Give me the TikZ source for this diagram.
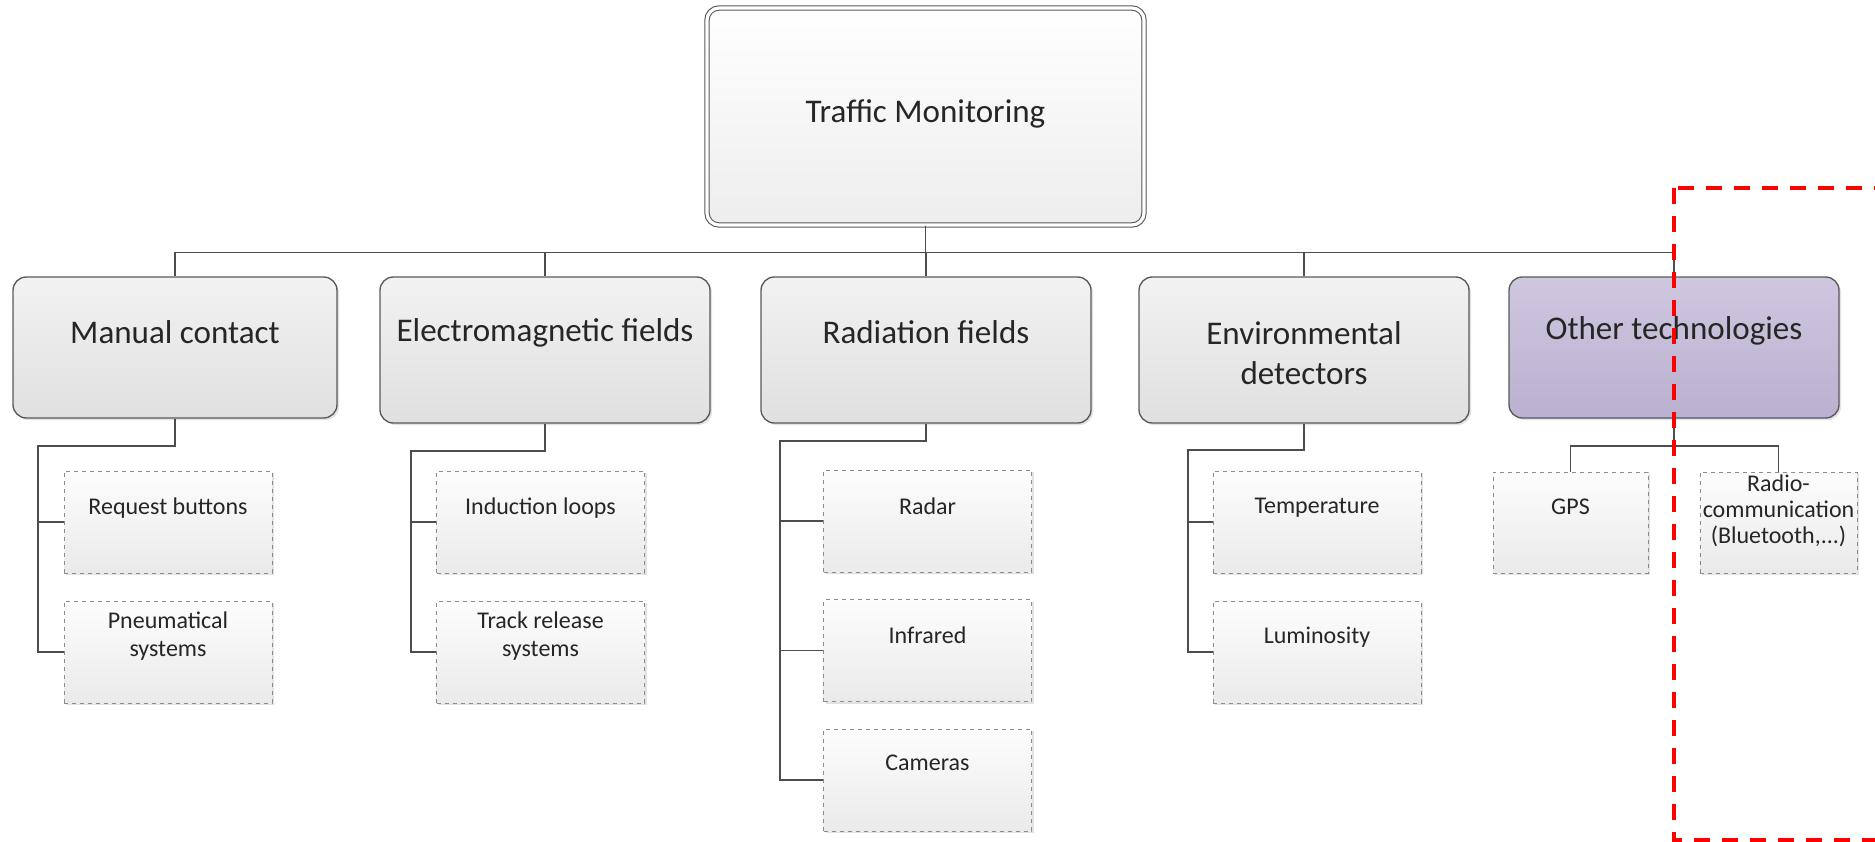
\documentclass[tikz,border=0pt]{standalone}
\usepackage{fontspec}
\setmainfont{Carlito}
\usetikzlibrary{shadows}

\definecolor{boxline}{RGB}{89,89,89}
\definecolor{wireline}{RGB}{77,77,77}
\definecolor{greytop}{RGB}{242,242,242}
\definecolor{greybot}{RGB}{224,224,224}
\definecolor{lilactop}{RGB}{207,199,224}
\definecolor{lilacbot}{RGB}{186,176,208}
\definecolor{leaftop}{RGB}{253,253,253}
\definecolor{leafbot}{RGB}{234,234,234}
\definecolor{leafline}{RGB}{140,140,140}
\definecolor{txtgrey}{RGB}{38,38,38}

\begin{document}
\begin{tikzpicture}[x=0.75pt,y=0.75pt,yscale=-1,xscale=1,
  softshadow/.style={drop shadow={shadow xshift=1.5pt,shadow yshift=-1.5pt,opacity=0.25,fill=black!45}},
  rootbox/.style={draw=boxline,line width=0.8pt,double=white,double distance=2.4pt,rounded corners=9pt,
    top color=white,bottom color=black!7,minimum width=327.75pt,minimum height=162.75pt,softshadow},
  catbox/.style={draw=boxline,line width=1pt,rounded corners=10pt,top color=greytop,bottom color=greybot,
    minimum width=247.5pt,minimum height=109.5pt,softshadow},
  leafbox/.style={draw=leafline,line width=0.75pt,dash pattern=on 3pt off 3pt,top color=leaftop,bottom color=leafbot,
    minimum width=156pt,minimum height=76.5pt,softshadow},
  cattext/.style={inner sep=0.75pt,align=center,text=txtgrey,font=\fontsize{24.8}{30}\selectfont},
  leaftext/.style={inner sep=0.75pt,align=center,text=txtgrey,font=\fontsize{18}{20.5}\selectfont},
  wire/.style={draw=wireline,line width=1pt},
  redframe/.style={draw=red,line width=3pt,dash pattern=on 12pt off 9pt}]
\useasboundingbox (0,0) rectangle (1875,842);
\clip (0,0) rectangle (1875,842);

%Shape: Rounded Rect [id:root]
\draw (925.5,116.5) node [rootbox] (root) {};
%Shape: Rounded Rect [id:categories]
\draw (175,347.5) node [catbox,minimum width=243pt,minimum height=105.75pt] (manual) {};
\draw (545,350) node [catbox] (em) {};
\draw (926,350) node [catbox] (radiation) {};
\draw (1304,350) node [catbox] (envir) {};
\draw (1674,347.5) node [catbox,minimum height=105.75pt,top color=lilactop,bottom color=lilacbot] (other) {};

%Shape: Rectangle [id:leaves]
\draw (168,522) node [leafbox] (req) {};
\draw (168,652) node [leafbox] (pneu) {};
\draw (540.5,522) node [leafbox] (ind) {};
\draw (540.5,652) node [leafbox] (track) {};
\draw (927.5,521) node [leafbox] (radar) {};
\draw (927.5,650.5) node [leafbox] (infra) {};
\draw (927.5,780) node [leafbox] (cams) {};
\draw (1317,522) node [leafbox] (temp) {};
\draw (1317,652) node [leafbox] (lum) {};
\draw (1570.5,522.5) node [leafbox,minimum width=116.25pt,minimum height=75.75pt] (gps) {};
\draw (1778.5,522.5) node [leafbox,minimum width=117.75pt,minimum height=75.75pt] (radio) {};

%Straight Lines [id:bus]
\draw [wire] (root.south) -- ++(0,27) -| (manual.north);
\draw [wire] (root.south) -- ++(0,27) -| (em.north);
\draw [wire] (root.south) -- ++(0,27) -| (radiation.north);
\draw [wire] (root.south) -- ++(0,27) -| (envir.north);
\draw [wire] (root.south) -- ++(0,27) -| (other.north);

%Straight Lines [id:spines]
\coordinate (manspine) at (38,446);
\coordinate (emspine) at (411,451);
\coordinate (radspine) at (780,441);
\coordinate (envspine) at (1188,450);
\coordinate (othbus) at (1674,446);
\draw [wire] (manual.south) |- (manspine) |- (req.west);
\draw [wire] (manspine) |- (pneu.west);
\draw [wire] (em.south) |- (emspine) |- (ind.west);
\draw [wire] (emspine) |- (track.west);
\draw [wire] (radiation.south) |- (radspine) |- (radar.west);
\draw [wire] (radspine) |- (infra.west);
\draw [wire] (radspine) |- (cams.west);
\draw [wire] (envir.south) |- (envspine) |- (temp.west);
\draw [wire] (envspine) |- (lum.west);
\draw [wire] (other.south) -- (othbus) -| (gps.north);
\draw [wire] (othbus) -| (radio.north);

% Text Node
\draw (925.5,114) node [cattext] (roottxt) {Traffic Monitoring};
% Text Node
\draw (175,332) node [cattext] (mantxt) {Manual contact};
\draw (545,333) node [cattext] (emtxt) {Electromagnetic fields};
\draw (926,332) node [cattext] (radtxt) {Radiation fields};
\draw (1304,353) node [cattext] (envtxt) {Environmental\\detectors};
\draw (1674,331) node [cattext] (othtxt) {Other technologies};
% Text Node
\draw (168,508) node [leaftext] (reqtxt) {Request buttons};
\draw (168,636) node [leaftext] (pneutxt) {Pneumatical\\systems};
\draw (540.5,508) node [leaftext] (indtxt) {Induction loops};
\draw (540.5,636) node [leaftext] (tracktxt) {Track release\\systems};
\draw (927.5,506) node [leaftext] (radartxt) {Radar};
\draw (927.5,635) node [leaftext] (infratxt) {Infrared};
\draw (927.5,763) node [leaftext] (camstxt) {Cameras};
\draw (1317,508) node [leaftext] (temptxt) {Temperature};
\draw (1317,637) node [leaftext] (lumtxt) {Luminosity};
\draw (1570.5,507) node [leaftext] (gpstxt) {GPS};
\draw (1778.5,511) node [leaftext,font=\fontsize{18}{19.5}\selectfont] (radiotxt) {Radio-\\communication\\(Bluetooth,...)};

%Shape: Rectangle [id:highlight]
\draw [redframe] (1674,188) rectangle (1900,840);

\end{tikzpicture}
\end{document}
